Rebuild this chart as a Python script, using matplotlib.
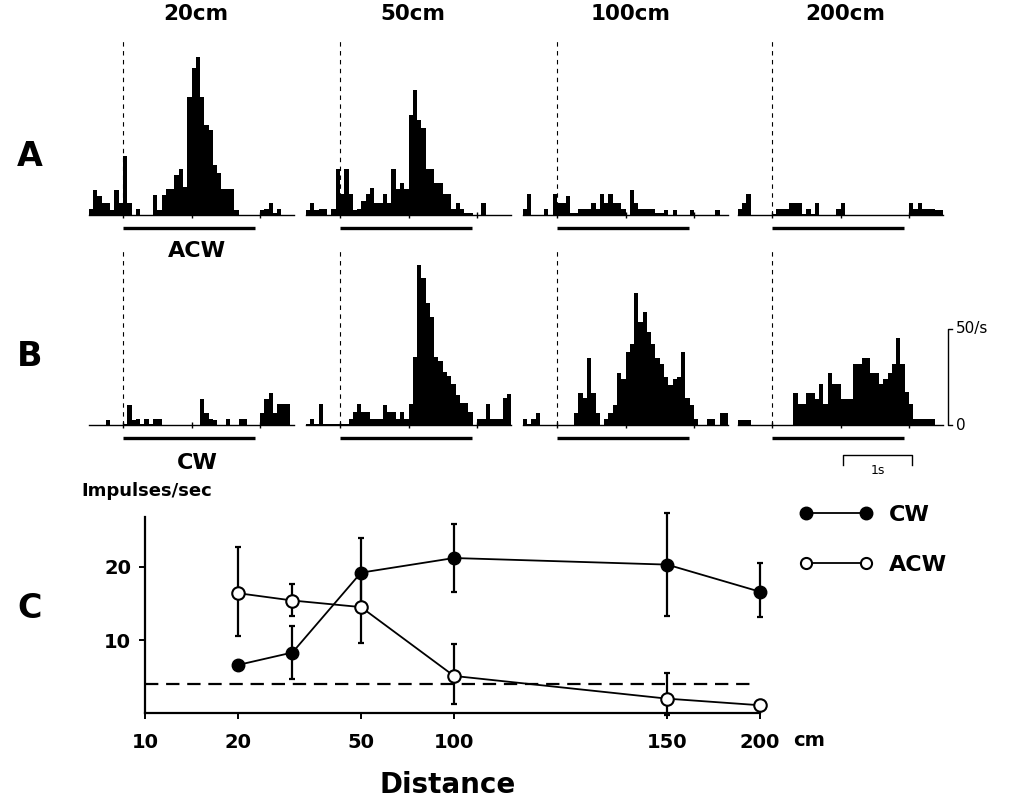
import numpy as np
import matplotlib
matplotlib.use("Agg")
import matplotlib.pyplot as plt
from matplotlib.lines import Line2D

plt.rcParams['font.family'] = ['DejaVu Sans']

# --- peristimulus histograms (impulses/s), bins of 1/16 s from -0.5 s ---
bin_width_s = 0.0625
bin_start_s = -0.5
stim_end_s = 1.93
column_titles = ['20cm', '50cm', '100cm', '200cm']

acw_20cm = [2.9, 13, 10, 6, 6, 2.6, 13, 6, 30.5, 6,
            0, 3, 0, 0, 0, 10.4, 2.6, 10.4, 13.3, 13.3,
            20.7, 24, 14.7, 61, 76, 82, 61, 46.6, 44, 26,
            21.6, 13.3, 13.3, 13.3, 2.6, 0, 0, 0, 0, 0,
            2.6, 3, 6.4, 1, 3, 0, 0, 0]
acw_50cm = [2.6, 6.4, 2.6, 3, 3, 0, 3, 24, 11, 24,
            10.7, 2.6, 3, 7, 10.7, 13.8, 6.4, 6.4, 10.7, 6.4,
            23.8, 13.3, 16.4, 13.3, 51.8, 65, 49, 45, 24, 24,
            16.4, 16.4, 10.7, 10.7, 3, 6.4, 3, 1, 1, 0,
            0, 6.4, 0, 0, 0, 0, 0, 0]
acw_100cm = [3, 10.7, 0, 0, 0, 3, 0, 10.7, 6.4, 6.4,
             10, 1, 1, 3, 3, 3, 6.4, 3, 10.7, 6.4,
             10.7, 6.4, 6.4, 3, 0, 13, 6.4, 3, 3, 3,
             3, 1, 1, 2.6, 0, 2.6, 0, 0, 0, 2.6,
             0, 0, 0, 0, 0, 2.6, 0, 0]
acw_200cm = [3, 6.4, 10.7, 0, 0, 0, 0, 0, 0.5, 3,
             3, 3, 6.4, 6.4, 6.4, 0.5, 3, 0.5, 6.4, 0,
             0, 0, 0, 3, 6.4, 0, 0, 0, 0, 0,
             0, 0, 0, 0, 0, 0, 0, 0, 0, 0,
             6.4, 3, 6.4, 3, 3, 3, 2.6, 2.6]

cw_20cm = [0, 0, 0, 0, 2.6, 0, 0, 0, 0.5, 10.4,
           2.6, 3, 0.5, 3, 0.5, 3, 3, 0, 0, 0,
           0, 0, 0, 0, 0, 0, 13.3, 6.4, 3, 2.6,
           0, 0, 3, 0, 0, 3, 3, 0, 0, 0,
           6.4, 13.3, 16.4, 6.4, 10.7, 10.7, 10.7, 0]
cw_50cm = [0.5, 3, 0.5, 10.9, 0.5, 0.5, 0.5, 0.5, 0.5, 0.5,
           3, 6.6, 10.9, 6.6, 6.6, 3, 3, 3, 10.5, 6.6,
           6.6, 3, 6.6, 3, 10.9, 35, 83, 76, 63, 56,
           35, 33, 27.6, 25.6, 21.2, 15.5, 11.2, 11.2, 6.6, 0,
           3, 3, 10.9, 3, 3, 3, 13.8, 16]
cw_100cm = [3, 0.5, 3, 6.4, 0, 0, 0, 0, 0, 0,
            0, 0, 6.4, 16.7, 13.8, 34.5, 16.7, 6.4, 0, 3,
            6.4, 10.4, 27, 24, 38, 42, 68.5, 53.5, 58.7, 48,
            42, 34.5, 31.4, 25, 20.7, 24, 24.7, 38, 13.8, 10.4,
            3, 0, 0, 3, 3, 0, 6.4, 6.4]
cw_200cm = [2.6, 2.6, 2.6, 0, 0, 0, 0, 0, 0, 0,
            0, 0, 0, 16.7, 10.9, 10.9, 16.7, 16.7, 13.3, 21,
            10.9, 27, 21, 21, 13.3, 13.3, 13.3, 31.6, 31.6, 34.5,
            34.5, 27, 27, 21, 24, 27, 31.6, 45, 31.6, 17,
            10.9, 3, 3, 3, 3, 3, 0, 0]

# --- panel C: mean rate vs distance ---
distances = [20, 30, 50, 100, 150, 200]
cw_mean = [6.6, 8.3, 19.2, 21.2, 20.3, 16.6]
cw_err_low = [0, 3.6, 4.7, 4.6, 7.0, 3.4]
cw_err_high = [0, 3.6, 4.7, 4.6, 7.0, 3.9]
acw_mean = [16.4, 15.4, 14.5, 5.1, 2.0, 1.1]
acw_err_low = [5.8, 2.1, 4.9, 3.8, 2.3, 0]
acw_err_high = [6.3, 2.2, 4.9, 4.4, 3.5, 0]
spont_rate = 4.0
dist_ticks = [10, 20, 50, 100, 150, 200]

W, H = 1022, 801
fig = plt.figure(figsize=(W / 100, H / 100), dpi=100)

px_per_s = 68.5
px_per_rate = 1.93
col_zero_px = [123, 340, 557, 772]
row_base_px = [215, 425]
ymin_h, ymax_h = -12, 90
rows = [[acw_20cm, acw_50cm, acw_100cm, acw_200cm],
        [cw_20cm, cw_50cm, cw_100cm, cw_200cm]]

hist_axes = []
for r, base in enumerate(row_base_px):
    for c, x0 in enumerate(col_zero_px):
        left = (x0 + bin_start_s * px_per_s) / W
        top_px = base - ymax_h * px_per_rate
        bot_px = base - ymin_h * px_per_rate
        ax = fig.add_axes([left, 1 - bot_px / H, 3 * px_per_s / W, (bot_px - top_px) / H])
        ax.patch.set_visible(False)
        rates = rows[r][c]
        edges = bin_start_s + bin_width_s * np.arange(len(rates))
        ax.bar(edges, rates, width=bin_width_s, align='edge', color='black', linewidth=0)
        ax.set_xlim(bin_start_s, bin_start_s + 3)
        ax.set_ylim(ymin_h, ymax_h)
        for s in ['top', 'right', 'left']:
            ax.spines[s].set_visible(False)
        ax.spines['bottom'].set_position(('data', 0))
        ax.spines['bottom'].set_linewidth(1.0)
        ax.set_xticks([0, 1, 2])
        ax.tick_params(axis='x', direction='inout', length=5, width=1, labelbottom=False)
        ax.set_yticks([])
        ax.plot([0, 0], [0, ymax_h], color='black', lw=0.8, dashes=(4, 4))
        ax.plot([0, stim_end_s], [-6.7, -6.7], color='black', lw=2.4,
                solid_capstyle='butt', clip_on=False)
        if r == 0:
            ax.text(1.07, 104, column_titles[c], ha='center', va='center',
                    fontsize=15.5, fontweight='bold', clip_on=False)
        hist_axes.append(ax)

hist_axes[0].text(1.08, -18.5, 'ACW', ha='center', va='center',
                  fontsize=16, fontweight='bold', clip_on=False)
hist_axes[4].text(1.08, -19.5, 'CW', ha='center', va='center',
                  fontsize=16, fontweight='bold', clip_on=False)

# scale bars on last panel of row B
axs = hist_axes[7]
axs.plot([2.63, 2.57, 2.57, 2.63], [50, 50, 0, 0], color='black', lw=1, clip_on=False)
axs.text(2.68, 50, '50/s', ha='left', va='center', fontsize=11, clip_on=False)
axs.text(2.68, 0, '0', ha='left', va='center', fontsize=11, clip_on=False)
axs.plot([1.04, 1.04, 2.04, 2.04], [-20.5, -15.5, -15.5, -20.5], color='black', lw=1,
         clip_on=False)
axs.text(1.54, -20, '1s', ha='center', va='top', fontsize=9, clip_on=False)

# row letters
for letter, ypx in [('A', 157), ('B', 356), ('C', 609)]:
    fig.text(30 / W, 1 - ypx / H, letter, ha='center', va='center',
             fontsize=24, fontweight='bold')

# --- panel C ---
lx_anchor = np.log10([10, 100, 150, 200])
pos_anchor = np.array([0.0, 1.0, 1.69, 1.99])
slope_last = (pos_anchor[-1] - pos_anchor[-2]) / (lx_anchor[-1] - lx_anchor[-2])


def dist_to_pos(d):
    lx = np.log10(np.clip(np.asarray(d, dtype=float), 1e-6, None))
    mid = np.interp(lx, lx_anchor, pos_anchor)
    far = pos_anchor[-1] + (lx - lx_anchor[-1]) * slope_last
    return np.where(lx <= 2, lx - 1, np.where(lx <= lx_anchor[-1], mid, far))


def pos_to_dist(p):
    p = np.asarray(p, dtype=float)
    mid = np.interp(p, pos_anchor, lx_anchor)
    far = lx_anchor[-1] + (p - pos_anchor[-1]) / slope_last
    lx = np.where(p <= 1, p + 1, np.where(p <= pos_anchor[-1], mid, far))
    return 10 ** lx


c_left, c_base, c_top = 145, 713.3, 517
c_ymax = 26.8
axc = fig.add_axes([c_left / W, 1 - c_base / H, 1.99 * 309 / W, (c_base - c_top) / H])
axc.set_xscale('function', functions=(dist_to_pos, pos_to_dist))
axc.set_xlim(10, 200)
axc.set_ylim(0, c_ymax)

axc.plot([10, 195], [spont_rate, spont_rate], color='black', lw=1.6, dashes=(6, 3.5))


def draw_errors(means, low, high):
    idx = [i for i in range(len(means)) if low[i] > 0 or high[i] > 0]
    axc.errorbar([distances[i] for i in idx], [means[i] for i in idx],
                 yerr=[[low[i] for i in idx], [high[i] for i in idx]],
                 fmt='none', ecolor='black', elinewidth=1.6, capsize=2.5,
                 capthick=1.6, clip_on=False, zorder=3)


draw_errors(cw_mean, cw_err_low, cw_err_high)
draw_errors(acw_mean, acw_err_low, acw_err_high)
axc.plot(distances, cw_mean, color='black', lw=1.3, marker='o', ms=9,
         mfc='black', mec='black', clip_on=False, zorder=4)
axc.plot(distances, acw_mean, color='black', lw=1.3, marker='o', ms=9,
         mfc='white', mec='black', mew=1.5, clip_on=False, zorder=5)

for s in ['top', 'right']:
    axc.spines[s].set_visible(False)
for s in ['left', 'bottom']:
    axc.spines[s].set_linewidth(1.6)
axc.set_xticks(dist_ticks)
axc.set_xticklabels([str(d) for d in dist_ticks])
axc.xaxis.set_minor_locator(plt.NullLocator())
axc.set_yticks([10, 20])
axc.tick_params(axis='both', direction='out', length=4, width=1.4,
                labelsize=14)
axc.tick_params(axis='x', pad=10)
axc.tick_params(axis='y', pad=6)
for lab in axc.get_xticklabels() + axc.get_yticklabels():
    lab.set_fontweight('bold')
axc.annotate('cm', xy=(200, 0), xycoords='data', xytext=(33, -18),
             textcoords='offset pixels', ha='left', va='top',
             fontsize=14, fontweight='bold')

fig.text(81 / W, 1 - 491 / H, 'Impulses/sec', ha='left', va='center',
         fontsize=13, fontweight='bold')
fig.text(448 / W, 1 - 785 / H, 'Distance', ha='center', va='center',
         fontsize=20, fontweight='bold')

handles = [Line2D([], [], color='black', lw=1.3, marker='o', ms=9, mfc='black'),
           Line2D([], [], color='black', lw=1.3, marker='o', ms=8,
                  mfc='white', mew=1.5)]
fig.legend(handles, ['CW', 'ACW'], numpoints=2, frameon=False,
           loc='upper left', bbox_to_anchor=(799 / W, 1 - 505 / H),
           prop={'size': 16, 'weight': 'bold'}, handlelength=3.3,
           handletextpad=0.75, labelspacing=1.33, borderpad=0, borderaxespad=0)

fig.savefig('out.png', dpi=100)
